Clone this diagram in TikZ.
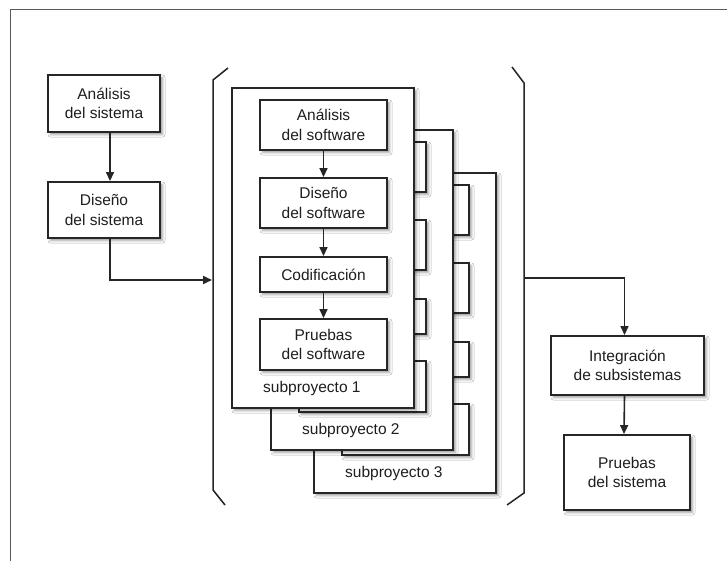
\documentclass[tikz,border=0pt]{standalone}
\usepackage{fontspec}
\setmainfont{Liberation Sans}
\usetikzlibrary{arrows.meta,shadows.blur}
\definecolor{boxline}{HTML}{262626}
\definecolor{txt}{HTML}{1E1E1E}
\definecolor{framec}{HTML}{5A5A5A}
\begin{document}
\begin{tikzpicture}[x=1pt,y=-1pt,
  box/.style={draw=boxline, line width=1.9pt, fill=white, inner sep=0pt,
    align=center, font=\fontsize{15.5pt}{19.5pt}\selectfont, text=txt,
    blur shadow={shadow xshift=2.5pt, shadow yshift=-2.5pt, shadow blur radius=2.5pt}},
  conn/.style={draw=boxline, line width=1.6pt},
  arr/.style={conn, -{Triangle[length=9pt,width=8pt]}},
  lbl/.style={font=\fontsize{15.5pt}{19.5pt}\selectfont, text=txt, anchor=west, inner sep=0pt},
  brk/.style={draw=boxline, line width=1.5pt},
  frm/.style={draw=framec, line width=1.6pt}]
\useasboundingbox (0,0) rectangle (727,561);
\fill[white] (0,0) rectangle (727,561);
% frame
\draw[frm] (727,9.5) -- (10.5,9.5) -- (10.5,561);
% left column
\node[box, minimum width=112pt, minimum height=57pt] (a1) at (104,103.5) {Análisis\\del sistema};
\node[box, minimum width=112pt, minimum height=56pt] (a2) at (104,210) {Diseño\\del sistema};
\draw[arr] ([xshift=6pt]a1.south) -- ([xshift=6pt]a2.north);
% brackets
\draw[brk] (228,68) -- (213,80) -- (213,490) -- (225,505);
\draw[brk] (512,67) -- (524,83) -- (524,493) -- (507,505);
\coordinate (lbin) at (212,280);
\coordinate (rbout) at (524,278);
\draw[arr] ([xshift=6pt]a2.south) |- (lbin);
% subproyecto 3
\begin{scope}[shift={(82,85)}]
\node[box, minimum width=182pt, minimum height=320pt] (s3) at (323,248) {};
\node[box, minimum width=127pt, minimum height=50pt] (s3a) at (323.5,125) {};
\node[box, minimum width=127pt, minimum height=50pt] (s3b) at (323.5,203) {};
\node[box, minimum width=127pt, minimum height=35pt] (s3c) at (323.5,274.5) {};
\node[box, minimum width=127pt, minimum height=51pt] (s3d) at (323.5,344.5) {};
\node[lbl] (s3l) at (263,388) {subproyecto 3};
\end{scope}
% subproyecto 2
\begin{scope}[shift={(39,42)}]
\node[box, minimum width=182pt, minimum height=320pt] (s2) at (323,248) {};
\node[box, minimum width=127pt, minimum height=50pt] (s2a) at (323.5,125) {};
\node[box, minimum width=127pt, minimum height=50pt] (s2b) at (323.5,203) {};
\node[box, minimum width=127pt, minimum height=35pt] (s2c) at (323.5,274.5) {};
\node[box, minimum width=127pt, minimum height=51pt] (s2d) at (323.5,344.5) {};
\node[lbl] (s2l) at (263,388) {subproyecto 2};
\end{scope}
% subproyecto 1
\node[box, minimum width=182pt, minimum height=320pt] (s1) at (323,248) {};
\node[box, minimum width=127pt, minimum height=50pt] (b1) at (323.5,125) {Análisis\\del software};
\node[box, minimum width=127pt, minimum height=50pt] (b2) at (323.5,203) {Diseño\\del software};
\node[box, minimum width=127pt, minimum height=35pt] (b3) at (323.5,274.5) {Codificación};
\node[box, minimum width=127pt, minimum height=51pt] (b4) at (323.5,344.5) {Pruebas\\del software};
\node[lbl] (s1l) at (263,388) {subproyecto 1};
\draw[arr] (b1) -- (b2);
\draw[arr] (b2) -- (b3);
\draw[arr] (b3) -- (b4);
% right column
\node[box, minimum width=153pt, minimum height=59pt] (i1) at (627.5,365.5) {Integración\\de subsistemas};
\node[box, minimum width=126pt, minimum height=75pt] (p1) at (627,472.5) {Pruebas\\del sistema};
\draw[arr] (rbout) -| ([xshift=-3pt]i1.north);
\draw[arr] ([xshift=-3pt]i1.south) -- ([xshift=-3pt]p1.north);
\end{tikzpicture}
\end{document}
